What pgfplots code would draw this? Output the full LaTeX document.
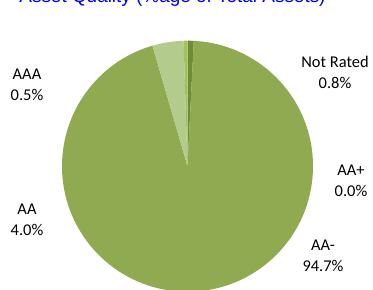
\documentclass[border=0pt]{standalone}
\usepackage{pgfplots}
\pgfplotsset{compat=1.18}
\usepackage{pgfplotstable}
\usepackage{fontspec}
\setmainfont{Carlito}
\newfontfamily\arialfont{Liberation Sans}
\definecolor{cNR}{RGB}{112,140,56}
\definecolor{cAAp}{RGB}{120,150,60}
\definecolor{cAAm}{RGB}{143,170,81}
\definecolor{cAA}{RGB}{179,203,140}
\definecolor{cAAA}{RGB}{160,196,92}
\definecolor{titleblue}{RGB}{0,0,255}
\pgfplotstableread{
label value
NotRated 0.8
AAplus 0.0
AAminus 94.7
AA 4.0
AAA 0.5
}\pietable
\begin{document}
\begin{tikzpicture}
\pgfplotstablegetelem{0}{value}\of\pietable \let\vA\pgfplotsretval
\pgfplotstablegetelem{1}{value}\of\pietable \let\vB\pgfplotsretval
\pgfplotstablegetelem{2}{value}\of\pietable \let\vC\pgfplotsretval
\pgfplotstablegetelem{3}{value}\of\pietable \let\vD\pgfplotsretval
\pgfplotstablegetelem{4}{value}\of\pietable \let\vE\pgfplotsretval
\pgfmathsetmacro\aA{90-3.6*\vA}
\pgfmathsetmacro\aB{\aA-3.6*\vB}
\pgfmathsetmacro\aC{\aB-3.6*\vC}
\pgfmathsetmacro\aD{\aC-3.6*\vD}
\pgfmathsetmacro\aE{\aD-3.6*\vE}
\def\R{125.5bp}
\begin{axis}[at={(0,0)}, anchor=south west, scale only axis,
  width=373bp, height=290bp, xmin=0, xmax=373, ymin=0, ymax=290,
  hide axis, clip=true]
\fill[cNR] (axis cs:187.5,123.8) -- ++(90:\R) arc[start angle=90, end angle=\aA, radius=\R] -- cycle;
\fill[cAAp] (axis cs:187.5,123.8) -- ++(\aA:\R) arc[start angle=\aA, end angle=\aB, radius=\R] -- cycle;
\fill[cAAm] (axis cs:187.5,123.8) -- ++(\aB:\R) arc[start angle=\aB, end angle=\aC, radius=\R] -- cycle;
\fill[cAA] (axis cs:187.5,123.8) -- ++(\aC:\R) arc[start angle=\aC, end angle=\aD, radius=\R] -- cycle;
\fill[cAAA] (axis cs:187.5,123.8) -- ++(\aD:\R) arc[start angle=\aD, end angle=\aE, radius=\R] -- cycle;
\node[anchor=base, text=titleblue, font=\arialfont\fontsize{19}{22}\selectfont, inner sep=0]
  at (axis cs:172.5,287.5) {Asset Quality (\%age of Total Assets)};
\tikzset{lab/.style={align=center, inner sep=0, font=\fontsize{16.5}{21}\selectfont}}
\node[lab] at (axis cs:335,218) {Not Rated\\0.8\%};
\node[lab] at (axis cs:351,109) {AA+\\0.0\%};
\node[lab] at (axis cs:323,34) {AA-\\94.7\%};
\node[lab] at (axis cs:27,205.5) {AAA\\0.5\%};
\node[lab] at (axis cs:27,70) {AA\\4.0\%};
\end{axis}
\pgfresetboundingbox
\useasboundingbox (0,0) rectangle (373bp,290bp);
\end{tikzpicture}
\end{document}
